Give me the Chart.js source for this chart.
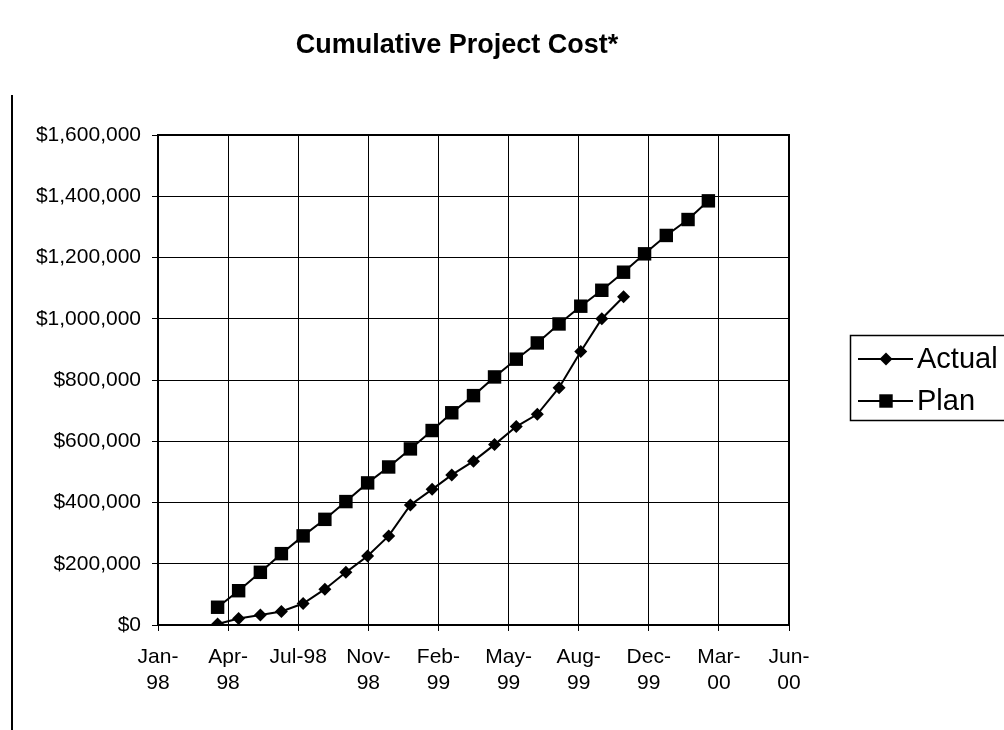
<!DOCTYPE html>
<html>
<head>
<meta charset="utf-8">
<script src="https://cdn.jsdelivr.net/npm/chart.js@4/dist/chart.umd.min.js"></script>
<style>
html,body{margin:0;padding:0;background:#fff;}
#wrap{position:relative;width:1004px;height:730px;}
</style>
</head>
<body>
<div id="wrap"><canvas id="c" width="1004" height="730"></canvas></div>
<script>
const chartTitle = 'Cumulative Project Cost*';
const seriesNames = ['Actual', 'Plan'];

const actualMonths = ['1998-04-01','1998-05-01','1998-06-01','1998-07-01','1998-08-01','1998-09-01',
  '1998-10-01','1998-11-01','1998-12-01','1999-01-01','1999-02-01','1999-03-01','1999-04-01',
  '1999-05-01','1999-06-01','1999-07-01','1999-08-01','1999-09-01','1999-10-01','1999-11-01'];
const actualValues = [3000,21000,33000,44000,70000,117000,172000,225000,291000,392000,443000,490000,
  535000,589000,648000,688000,775000,893000,1000000,1072000];

const planMonths = ['1998-04-01','1998-05-01','1998-06-01','1998-07-01','1998-08-01','1998-09-01',
  '1998-10-01','1998-11-01','1998-12-01','1999-01-01','1999-02-01','1999-03-01','1999-04-01',
  '1999-05-01','1999-06-01','1999-07-01','1999-08-01','1999-09-01','1999-10-01','1999-11-01',
  '1999-12-01','2000-01-01','2000-02-01','2000-03-01'];
const planValues = [58000,112000,172000,233000,291000,345000,403000,464000,516000,575000,635000,693000,
  749000,810000,868000,921000,983000,1041000,1093000,1152000,1212000,1272000,1324000,1385000];

const xTickDates = ['1998-01-06','1998-04-16','1998-07-25','1998-11-02','1999-02-10',
  '1999-05-21','1999-08-29','1999-12-07','2000-03-16','2000-06-24'];
const xTickLabels = [['Jan-','98'],['Apr-','98'],'Jul-98',['Nov-','98'],['Feb-','99'],
  ['May-','99'],['Aug-','99'],['Dec-','99'],['Mar-','00'],['Jun-','00']];
const yTickValues = [0,200000,400000,600000,800000,1000000,1200000,1400000,1600000];

const FONT = '"Liberation Sans", Arial, Helvetica, sans-serif';
const dayOf = s => (Date.parse(s) - Date.parse('1998-01-01')) / 86400000;
const toPoints = (months, vals) => months.map((m, i) => ({x: dayOf(m), y: vals[i]}));

function drawMarker(ctx, style, r, x, y) {
  ctx.beginPath();
  if (style === 'rectRot') {
    ctx.moveTo(x - r, y); ctx.lineTo(x, y - r); ctx.lineTo(x + r, y); ctx.lineTo(x, y + r);
  } else {
    const s = r * Math.SQRT1_2;
    ctx.rect(x - s, y - s, 2 * s, 2 * s);
  }
  ctx.closePath();
  ctx.fill();
}

const decor = {
  id: 'decor',
  afterDraw(chart) {
    const {ctx, chartArea: a} = chart;
    ctx.save();
    // plot area frame
    ctx.strokeStyle = '#000';
    ctx.lineWidth = 2;
    ctx.strokeRect(a.left, a.top, a.right - a.left, a.bottom - a.top);
    // outer chart border (left edge)
    ctx.beginPath();
    ctx.moveTo(12, 95); ctx.lineTo(12, 730);
    ctx.stroke();
    // title
    ctx.fillStyle = '#000';
    ctx.font = 'bold 27px ' + FONT;
    ctx.textAlign = 'center';
    ctx.textBaseline = 'alphabetic';
    ctx.fillText(chartTitle, 457, 53);
    // legend
    ctx.lineWidth = 1.5;
    ctx.strokeRect(850.5, 335.5, 200, 85);
    ctx.font = '29px ' + FONT;
    ctx.textAlign = 'left';
    ctx.textBaseline = 'middle';
    chart.data.datasets.forEach((ds, i) => {
      const y = 359 + i * 42;
      ctx.strokeStyle = ds.borderColor;
      ctx.lineWidth = 2;
      ctx.beginPath(); ctx.moveTo(858, y); ctx.lineTo(913, y); ctx.stroke();
      ctx.fillStyle = ds.pointBackgroundColor;
      drawMarker(ctx, ds.pointStyle, ds.pointRadius, 886, y);
      ctx.fillStyle = '#000';
      ctx.fillText(ds.label, 917, y + 1);
    });
    ctx.restore();
  }
};

new Chart(document.getElementById('c'), {
  type: 'line',
  data: {
    datasets: [
      {
        label: seriesNames[0],
        data: toPoints(actualMonths, actualValues),
        borderColor: '#000', backgroundColor: '#000', pointBackgroundColor: '#000',
        pointBorderColor: '#000', pointBorderWidth: 0,
        borderWidth: 2, pointStyle: 'rectRot', pointRadius: 6.5, tension: 0, fill: false
      },
      {
        label: seriesNames[1],
        data: toPoints(planMonths, planValues),
        borderColor: '#000', backgroundColor: '#000', pointBackgroundColor: '#000',
        pointBorderColor: '#000', pointBorderWidth: 0,
        borderWidth: 2, pointStyle: 'rect', pointRadius: 9.5, tension: 0, fill: false
      }
    ]
  },
  options: {
    responsive: false,
    animation: false,
    devicePixelRatio: 1,
    layout: {padding: {left: 0, top: 135, right: 215, bottom: 0}},
    plugins: {legend: {display: false}, title: {display: false}, tooltip: {enabled: false}},
    scales: {
      x: {
        type: 'linear',
        min: dayOf(xTickDates[0]),
        max: dayOf(xTickDates[xTickDates.length - 1]),
        afterBuildTicks: s => { s.ticks = xTickDates.map(d => ({value: dayOf(d)})); },
        afterFit: s => { s.height = 105; },
        grid: {color: '#000', lineWidth: 1, drawTicks: true, tickLength: 6, tickColor: '#000'},
        border: {display: true, color: '#000', width: 2},
        ticks: {
          autoSkip: false, maxRotation: 0, minRotation: 0, padding: 13, color: '#000',
          font: {family: FONT, size: 21, lineHeight: 1.25},
          callback: (v, i) => xTickLabels[i]
        }
      },
      y: {
        min: 0, max: 1600000,
        afterBuildTicks: s => { s.ticks = yTickValues.map(v => ({value: v})); },
        afterFit: s => { s.width = 158; },
        grid: {color: '#000', lineWidth: 1, drawTicks: true, tickLength: 6, tickColor: '#000'},
        border: {display: true, color: '#000', width: 2},
        ticks: {
          padding: 11, color: '#000',
          font: {family: FONT, size: 21},
          callback: v => '$' + Number(v).toLocaleString('en-US')
        }
      }
    }
  },
  plugins: [decor]
});
</script>
</body>
</html>
